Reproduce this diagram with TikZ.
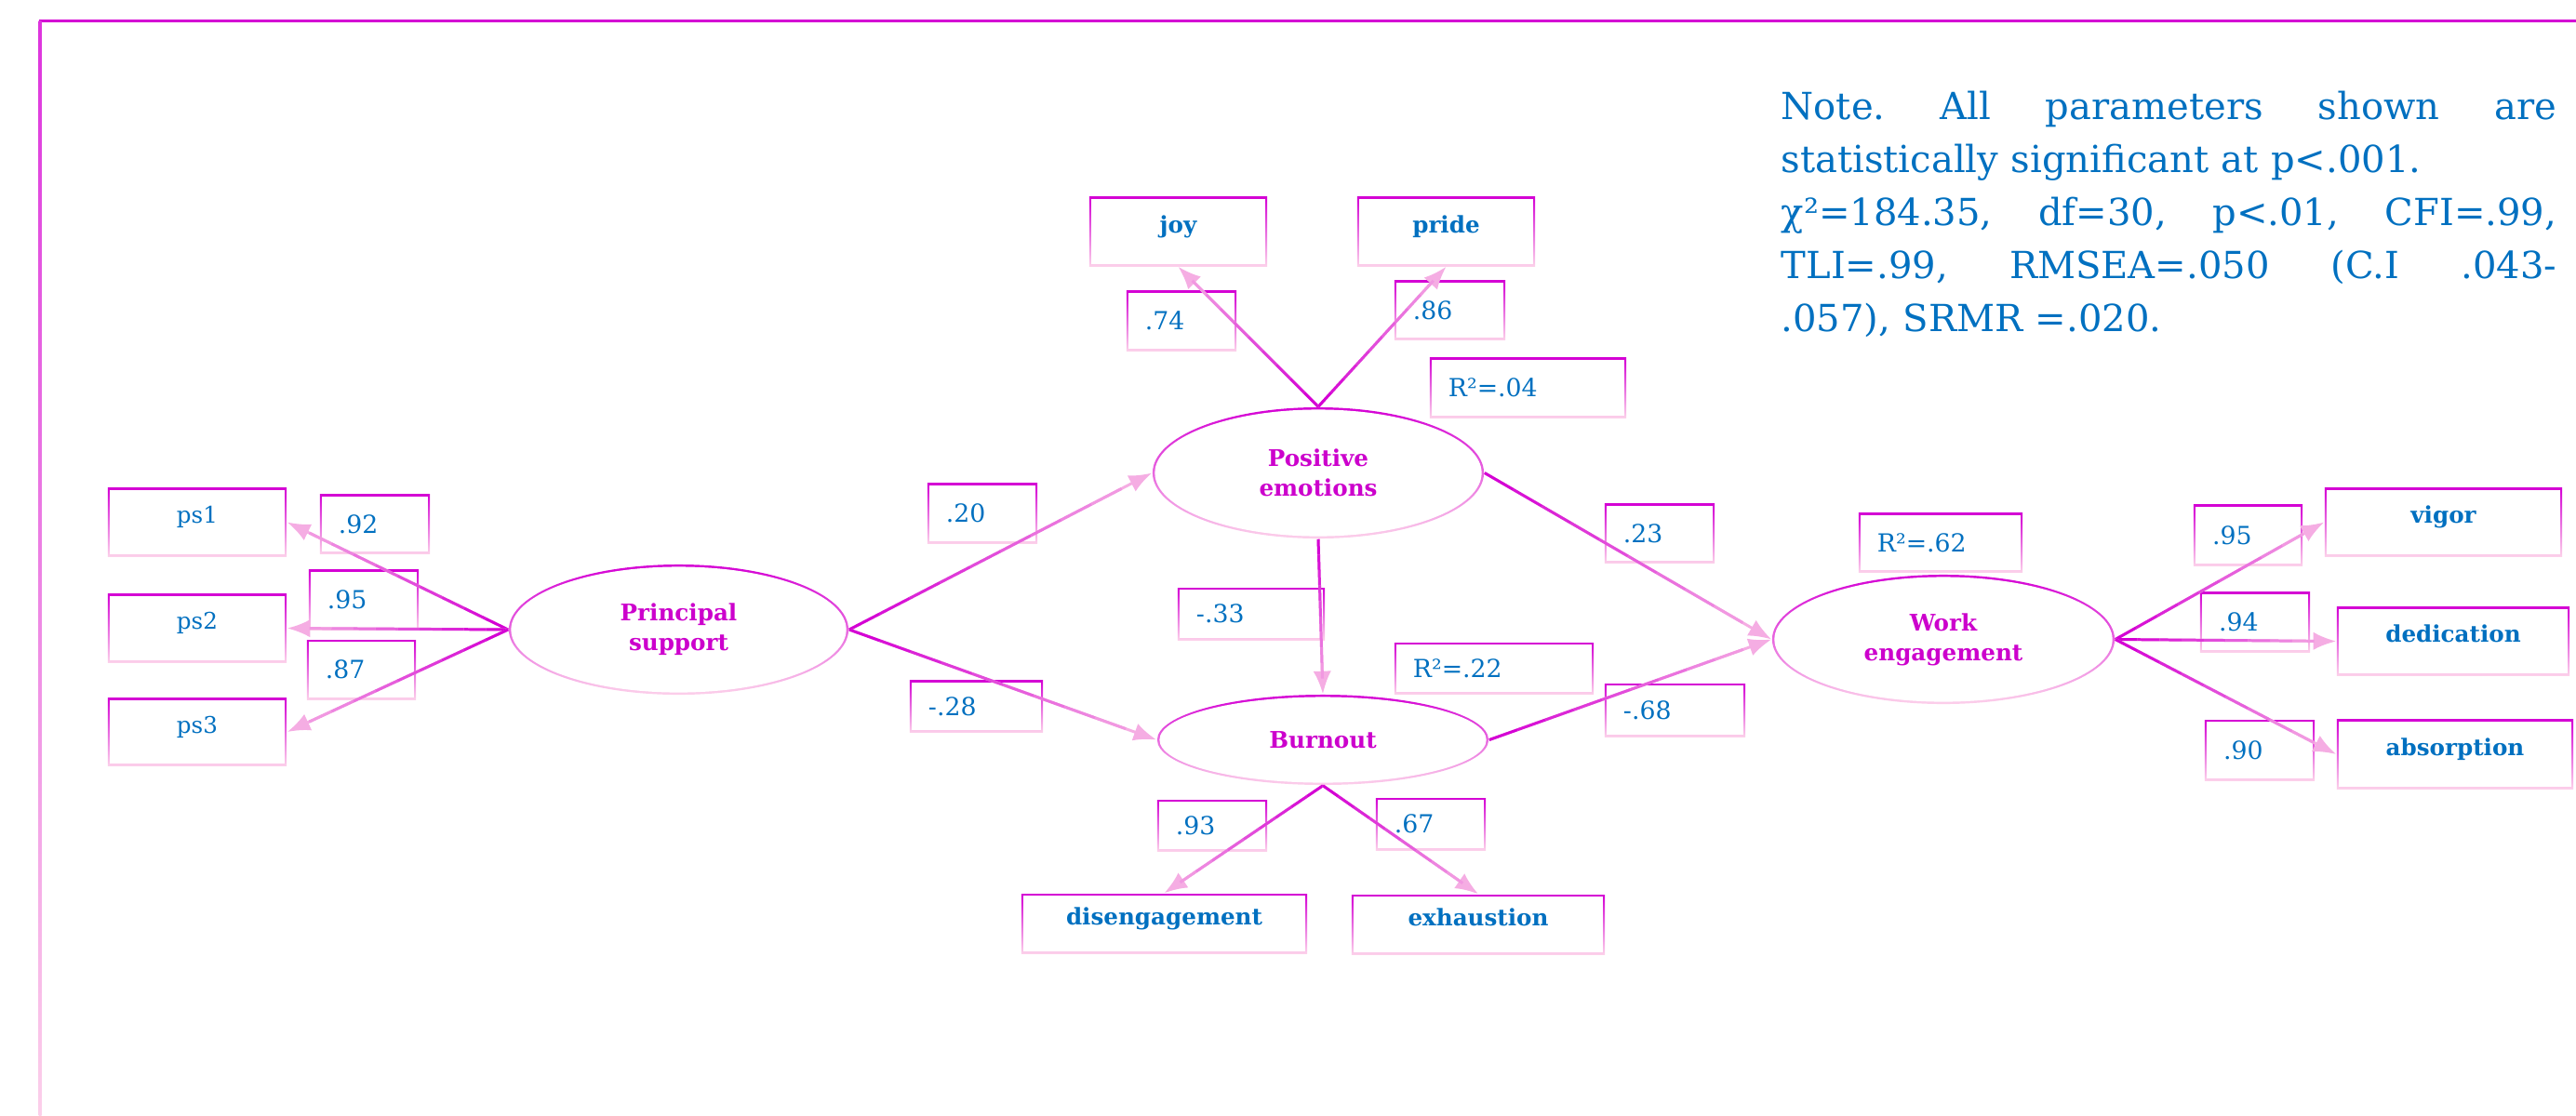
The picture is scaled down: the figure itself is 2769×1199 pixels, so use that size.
\documentclass[tikz,border=0pt]{standalone}
\usepackage{fontspec}
\setmainfont{DejaVu Serif}
\usepackage{xcolor}
\usepackage{tikz}
\usetikzlibrary{arrows.meta,calc,shapes.geometric}

\definecolor{edgemag}{HTML}{D400D4}
\definecolor{edgepink}{HTML}{FCD0EA}
\definecolor{arrpink}{HTML}{F5ADE3}
\definecolor{latmag}{HTML}{CC00CC}
\definecolor{txtblue}{HTML}{0070C0}

\newcommand{\noteline}[1]{\leavevmode\hbox to 8.33cm{#1}}
\newcommand{\gradarrow}[2]{%
  \draw[conn, arrpink, -{Latex[length=7pt,width=5.5pt]}] (#1) -- (#2);
  \foreach \k in {1,...,9}{%
    \pgfmathsetmacro{\segA}{(\k-1)/10}%
    \pgfmathsetmacro{\segB}{\k/10}%
    \pgfmathtruncatemacro{\mix}{100-(\k-1)*11}%
    \draw[conn, edgemag!\mix!arrpink] ($(#1)!\segA!(#2)$) -- ($(#1)!\segB!(#2)$);
  }%
}

\begin{document}
\begin{tikzpicture}[
        x=0.01cm, y=-0.01cm,
        shadebox/.style={rectangle, inner sep=0pt, top color=edgemag, bottom color=edgepink,
            path picture={\fill[white] ([shift={(0.7pt,-0.7pt)}]path picture bounding box.north west) rectangle ([shift={(-0.7pt,0.7pt)}]path picture bounding box.south east);}},
        ind/.style={shadebox, minimum width=#1, minimum height=0.73cm, text=txtblue, font=\fontsize{7}{8.5}\selectfont\bfseries, text height=0.19cm, text depth=0.17cm},
        est/.style={shadebox, text width=#1, inner xsep=0.2cm, minimum height=0.64cm, align=left, text=txtblue, font=\fontsize{7.6}{9}\selectfont},
        latent/.style={ellipse, inner sep=0pt, top color=edgemag, bottom color=edgepink, align=center, text=latmag, font=\fontsize{7}{9.1}\selectfont\bfseries,
            path picture={\fill[white] let \p1=($(path picture bounding box.north east)-(path picture bounding box.center)$) in (path picture bounding box.center) ellipse ({\x1-0.7pt} and {\y1-0.7pt});}},
        note/.style={text width=8.33cm, inner sep=0pt, align=left, text=txtblue, font=\fontsize{11.4}{16.2}\selectfont},
        conn/.style={line width=0.85pt}
    ]
    \useasboundingbox (0,0) rectangle (2769,1199);

    % Frame
    \fill[edgemag] (42,20.5) rectangle (2769,23.5);
    \shade[top color=edgemag!80!white, bottom color=edgepink] (41.5,22) rectangle (44.5,1199);

    % Estimates
    \node[est=0.78cm] (l92) at (403,563.5) {.92};
    \node[est=0.78cm] (l95a) at (391,645) {.95};
    \node[est=0.77cm] (l87) at (388.5,720) {.87};
    \node[est=0.78cm] (l74) at (1270,345) {.74};
    \node[est=0.79cm] (l86) at (1558.5,333.5) {.86};
    \node[est=1.71cm] (r2pe) at (1642.5,417) {R²=.04};
    \node[est=0.78cm] (l20) at (1056,552) {.20};
    \node[est=0.78cm] (l23) at (1784,573.5) {.23};
    \node[est=1.18cm, minimum height=0.56cm] (l33) at (1345,660) {-.33};
    \node[est=1.74cm, minimum height=0.55cm] (r2bo) at (1606,718.5) {R²=.22};
    \node[est=1.03cm, minimum height=0.56cm] (l28) at (1049.5,759.5) {-.28};
    \node[est=1.11cm, minimum height=0.57cm] (l68) at (1800.5,763.5) {-.68};
    \node[est=0.78cm, minimum height=0.55cm] (l93) at (1303,887.5) {.93};
    \node[est=0.78cm, minimum height=0.56cm] (l67) at (1538,886) {.67};
    \node[est=1.36cm, minimum height=0.63cm] (r2we) at (2086,583.5) {R²=.62};
    \node[est=0.77cm, minimum height=0.65cm] (l95b) at (2416.5,575.5) {.95};
    \node[est=0.78cm] (l94) at (2424,669) {.94};
    \node[est=0.78cm, minimum height=0.65cm] (l90) at (2429,806.5) {.90};

    % Indicators
    \node[ind=1.92cm, font=\fontsize{7}{8.5}\selectfont] (ps1) at (212,561.5) {ps1};
    \node[ind=1.92cm, font=\fontsize{7}{8.5}\selectfont] (ps2) at (212,675.5) {ps2};
    \node[ind=1.92cm, font=\fontsize{7}{8.5}\selectfont] (ps3) at (212,787) {ps3};
    \node[ind=1.91cm, minimum height=0.74cm] (joy) at (1266.5,249) {joy};
    \node[ind=1.91cm, minimum height=0.74cm] (pride) at (1554.5,249) {pride};
    \node[ind=3.07cm, minimum height=0.64cm] (dis) at (1251.5,993) {disengagement};
    \node[ind=2.72cm, minimum height=0.64cm] (exh) at (1589,994) {exhaustion};
    \node[ind=2.55cm] (vigor) at (2626.5,561.5) {vigor};
    \node[ind=2.50cm] (ded) at (2637,689.5) {dedication};
    \node[ind=2.54cm, minimum height=0.74cm] (abs) at (2639,811) {absorption};

    % Latent variables
    \node[latent, minimum width=3.65cm, minimum height=1.40cm] (ps) at (729.5,677) {Principal\\support};
    \node[latent, minimum width=3.56cm, minimum height=1.41cm] (pe) at (1417,508.5) {Positive\\emotions};
    \node[latent, minimum width=3.56cm, minimum height=0.97cm] (bo) at (1422,795.5) {Burnout};
    \node[latent, minimum width=3.68cm, minimum height=1.39cm] (we) at (2089,687.5) {Work\\engagement};

    % Note
    \node[note, anchor=north west] (note) at (1914,97) {%
        \noteline{Note.\hfill All\hfill parameters\hfill shown\hfill are}\\
        statistically significant at p<.001.\\
        \noteline{χ²=184.35,\hfill df=30,\hfill p<.01,\hfill CFI=.99,}\\
        \noteline{TLI=.99,\hfill RMSEA=.050\hfill (C.I\hfill .043-}\\
        .057), SRMR =.020.};

    % Measurement paths
    \gradarrow{ps.west}{ps1.east}
    \gradarrow{ps.west}{ps2.east}
    \gradarrow{ps.west}{ps3.east}
    \gradarrow{pe.north}{joy.south}
    \gradarrow{pe.north}{pride.south}
    \gradarrow{bo.south}{dis.north}
    \gradarrow{bo.south}{exh.north}
    \gradarrow{we.east}{vigor.west}
    \gradarrow{we.east}{ded.west}
    \gradarrow{we.east}{abs.west}

    % Structural paths
    \gradarrow{ps.east}{pe.west}
    \gradarrow{ps.east}{bo.west}
    \gradarrow{pe.south}{bo.north}
    \gradarrow{pe.east}{we.west}
    \gradarrow{bo.east}{we.west}

\end{tikzpicture}
\end{document}
